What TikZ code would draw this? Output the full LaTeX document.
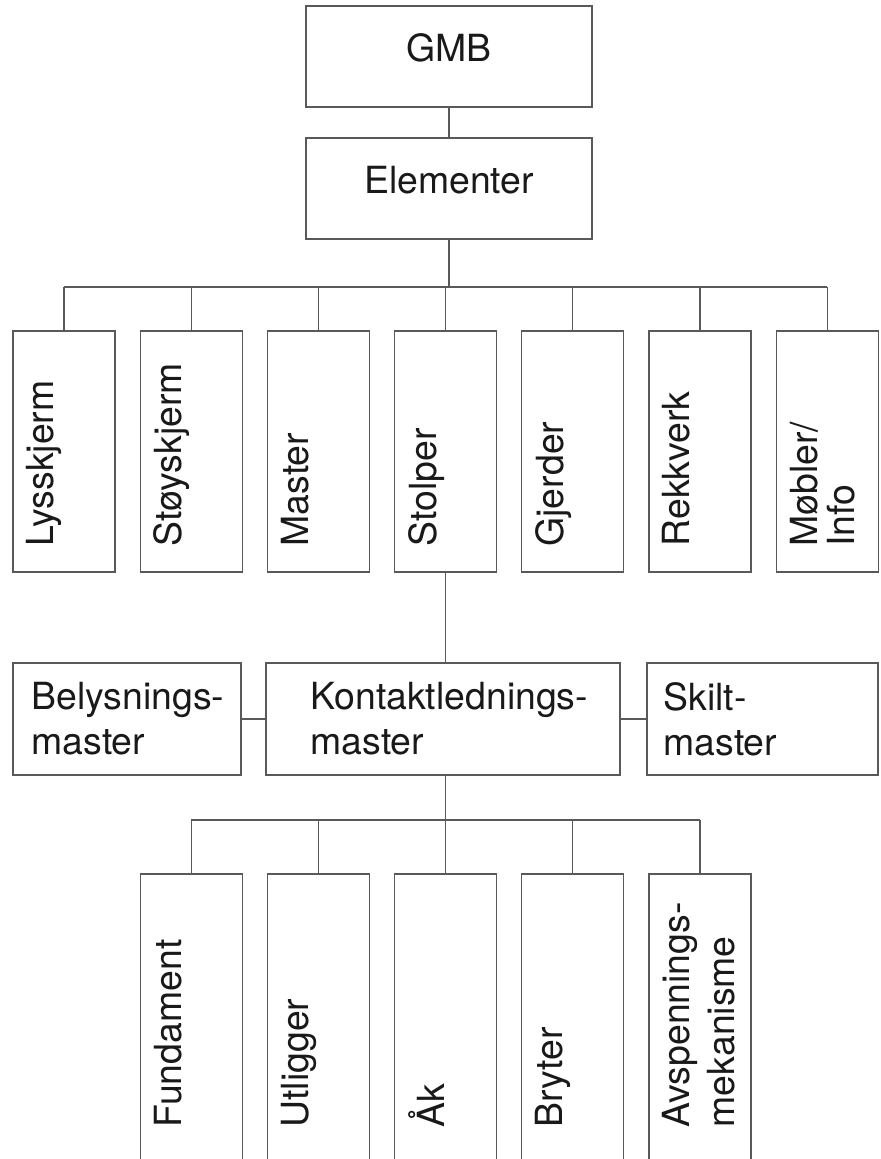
\documentclass[tikz,border=0pt]{standalone}
\usepackage{fontspec}
\setmainfont{TeX Gyre Heros}
\usetikzlibrary{positioning,calc}
\tikzset{topbox/.style={rectangle,draw,minimum width=143pt,minimum height=50.5pt,
text height=13.4pt,text depth=8.5pt,inner sep=0pt,outer sep=0pt},
tallbox/.style={rectangle,draw,minimum width=51pt,minimum height=120.5pt,inner sep=0pt,outer sep=0pt},
widebox/.style={rectangle,draw,minimum width=#1,minimum height=56pt,inner sep=0pt,outer sep=0pt},
boxtext/.style={inner sep=0pt,align=left}}
\newcommand{\tallnode}[4][]{
\node[tallbox,#1] (#2) {};
\node[boxtext,rotate=90,anchor=north west] (#2-text) at ($(#2.south west)+(13,-#3)$) {#4};
}
\newcommand{\widenode}[5][]{
\node[widebox=#3,#1] (#2) {};
\node[boxtext,anchor=north west] (#2-text) at ($(#2.north west)+(#4,19)$) {#5};
}

\begin{document}
\begin{tikzpicture}[x=0.5pt,y=-0.5pt,font=\fontsize{18.7}{22.5}\selectfont,
    text=black!90,draw=black!65,line width=0.6pt,node distance=12.6pt]
    \path[use as bounding box] (0,0) rectangle (881,1159);
    \clip (0,0) rectangle (881,1159);
    % top
    \node[topbox] (gmb) at (449,56.5) {GMB};
    \node[topbox,below=15.5pt of gmb] (elem) {Elementer};
    % elements
    \tallnode[at={(64,451.5)}]{lys}{25}{Lysskjerm}
    \tallnode[right=of lys]{stoy}{25}{Støyskjerm}
    \tallnode[right=of stoy]{mast}{25}{Master}
    \tallnode[right=of mast]{stol}{25}{Stolper}
    \tallnode[right=of stol]{gjer}{25}{Gjerder}
    \tallnode[right=of gjer]{rekk}{25}{Rekkverk}
    \tallnode[right=of rekk]{moeb}{25}{Møbler/\\[-4pt]Info}
    % masts
    \widenode[at={(127,719)}]{belys}{114pt}{18}{Belysnings-\\master}
    \widenode[right=12.5pt of belys]{kont}{177pt}{44}{Kontaktlednings-\\master}
    \widenode[right=13.5pt of kont]{skilt}{115.5pt}{16}{Skilt-\\master}
    % parts
    \tallnode[at={(191.2,1019.5)},minimum height=145.5pt]{fund}{37}{Fundament}
    \tallnode[right=of fund,minimum height=145.5pt]{utl}{37}{Utligger}
    \tallnode[right=of utl,minimum height=145.5pt]{aak}{37}{Åk}
    \tallnode[right=of aak,minimum height=145.5pt]{bryt}{37}{Bryter}
    \tallnode[right=of bryt,minimum height=145.5pt]{avsp}{37}{Avspennings-\\mekanisme}
    % links
    \draw (gmb) -- (elem);
    \draw (elem.south) -- ++(0,48) coordinate (bus-a);
    \draw (bus-a -| lys.north) -- (bus-a -| moeb.north);
    \foreach \n in {lys,stoy,mast,stol,gjer,rekk,moeb}
        \draw (bus-a -| \n.north) -- (\n.north);
    \draw (stol.south) -- (stol.south |- kont.north);
    \draw (belys) -- (kont);
    \draw (kont) -- (skilt);
    \draw (kont.south -| stol.south) -- ++(0,45) coordinate (bus-b);
    \draw (bus-b -| fund.north) -- (bus-b -| avsp.north);
    \foreach \n in {fund,utl,aak,bryt,avsp}
        \draw (bus-b -| \n.north) -- (\n.north);
\end{tikzpicture}
\end{document}
